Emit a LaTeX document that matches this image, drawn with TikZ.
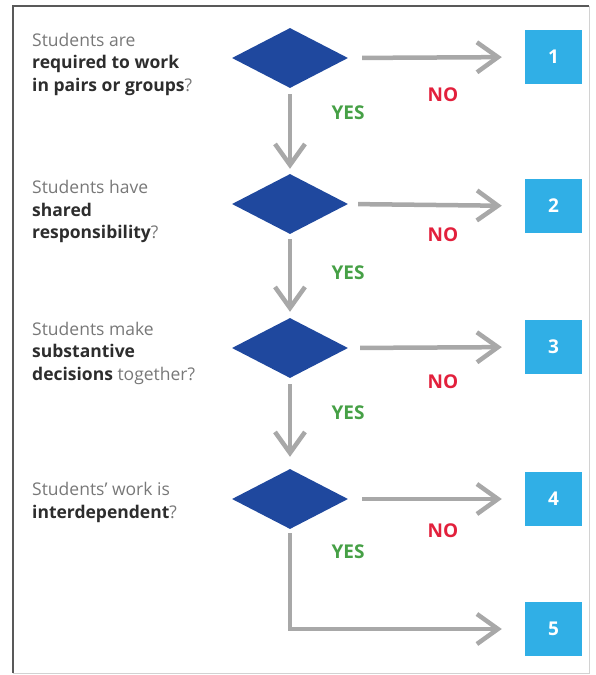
\documentclass[tikz,border=0pt]{standalone}
\usepackage{fontspec}
\setmainfont{Open Sans}
\usetikzlibrary{shapes.geometric,arrows.meta}
\definecolor{decblue}{RGB}{31,72,158}
\definecolor{boxblue}{RGB}{48,175,230}
\definecolor{flowgray}{RGB}{168,168,168}
\definecolor{yesgreen}{RGB}{70,160,70}
\definecolor{nored}{RGB}{226,32,60}
\definecolor{textgray}{RGB}{120,120,120}
\definecolor{darktext}{RGB}{45,45,45}
\newcommand{\keyword}[1]{\textbf{\color{darktext}#1}}
\begin{document}
\begin{tikzpicture}[x=1pt, y=-1pt,
        decision/.style={diamond, fill=decblue, minimum width=116pt, minimum height=60pt, inner sep=0pt},
        outcome/.style={rectangle, fill=boxblue, minimum width=57pt, minimum height=54pt, inner sep=0pt, text=white, font=\bfseries\fontsize{19}{19}\selectfont},
        question/.style={anchor=west, align=left, inner sep=0pt, text=textgray, font=\fontsize{17.5}{22.5}\selectfont},
        flow/.style={draw=flowgray, line width=4.5pt, -{Straight Barb[length=21pt, width=30pt]}},
        yes label/.style={text=yesgreen, font=\bfseries\fontsize{19}{19}\selectfont},
        no label/.style={text=nored, font=\bfseries\fontsize{19}{19}\selectfont},
    ]
	\useasboundingbox (0,0) rectangle (596,675);
	\draw[gray!35, line width=1pt] (13,6) rectangle (589,673);
	\draw[black!65, line width=2pt] (13,673) -- (13,6) -- (589,6);
	\node[decision] (d1) at (290,58) {};
	\node[decision] (d2) at (290,204) {};
	\node[decision] (d3) at (290,348) {};
	\node[decision] (d4) at (290,499) {};
	\node[outcome] (b1) at (553.5,57) {1};
	\node[outcome] (b2) at (553.5,206) {2};
	\node[outcome] (b3) at (553.5,347) {3};
	\node[outcome] (b4) at (553.5,499) {4};
	\node[outcome] (b5) at (553.5,629) {5};
	\draw[flow, shorten <=14pt, shorten >=23pt] (d1.east) -- (b1.west);
	\draw[flow, shorten <=10pt, shorten >=23pt] (d2.east) -- (b2.west);
	\draw[flow, shorten <=12pt, shorten >=23pt] (d3.east) -- (b3.west);
	\draw[flow, shorten <=14pt, shorten >=23pt] (d4.east) -- (b4.west);
	\draw[flow, shorten <=6pt, shorten >=5pt] (d1.south) -- (d2.north);
	\draw[flow, shorten <=5pt, shorten >=6pt] (d2.south) -- (d3.north);
	\draw[flow, shorten <=6pt, shorten >=12pt] (d3.south) -- (d4.north);
	\draw[flow, shorten <=4pt, shorten >=23pt] (d4.south) |- (b5.west);
	\node[yes label] (y1) at (348,113) {YES};
	\node[yes label] (y2) at (348,273) {YES};
	\node[yes label] (y3) at (348,413) {YES};
	\node[yes label] (y4) at (348,552) {YES};
	\node[no label] (n1) at (443,95) {NO};
	\node[no label] (n2) at (443,235) {NO};
	\node[no label] (n3) at (443,382) {NO};
	\node[no label] (n4) at (443,531) {NO};
	\node[question] (q1) at (32,64) {Students are\\\keyword{required to work}\\\keyword{in pairs or groups}?};
	\node[question] (q2) at (32,211.5) {Students have\\\keyword{shared}\\\keyword{responsibility}?};
	\node[question] (q3) at (32,353) {Students make\\\keyword{substantive}\\\keyword{decisions} together?};
	\node[question] (q4) at (32,502.5) {Students' work is\\\keyword{interdependent}?};
\end{tikzpicture}
\end{document}
